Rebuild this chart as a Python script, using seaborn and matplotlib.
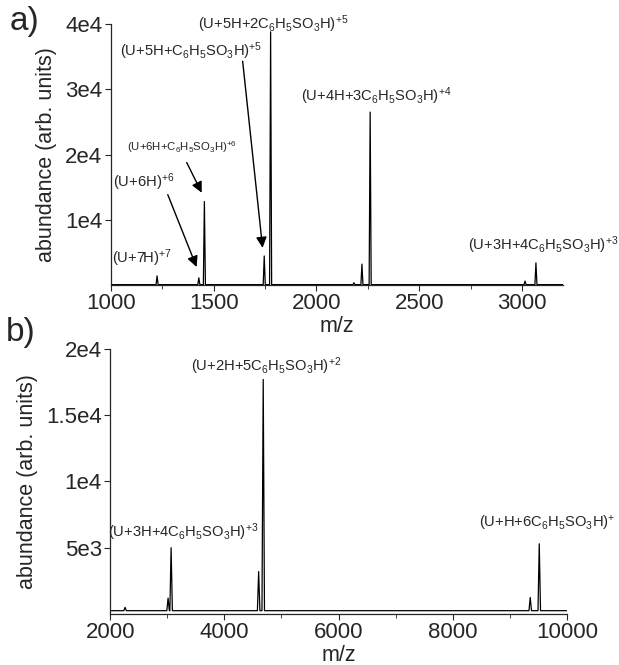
import numpy as np
import pandas as pd
import matplotlib
matplotlib.use('Agg')
import matplotlib.pyplot as plt
from matplotlib.ticker import MultipleLocator
import seaborn as sns

# panel a) peaks (m/z, abundance)
peaks_a_mz = [1225, 1428, 1455, 1746, 1777, 2182, 2221, 2261, 3014, 3067]
peaks_a_ab = [1400, 1100, 12800, 4450, 38800, 350, 3200, 26500, 600, 3400]
base_a = 60

# panel b) peaks
peaks_b_mz = [2261, 3014, 3067, 4600, 4680, 9356, 9514]
peaks_b_ab = [500, 1200, 5000, 3200, 17700, 1250, 5300]
base_b = 250

yticks_a = [1e4, 2e4, 3e4, 4e4]
yticklabels_a = ['1e4', '2e4', '3e4', '4e4']
yticks_b = [5e3, 1e4, 1.5e4, 2e4]
yticklabels_b = ['5e3', '1e4', '1.5e4', '2e4']


def stick_spectrum(mz_list, ab_list, base, lo, hi, hw):
    # each peak drawn as a narrow triangle sitting on a flat baseline
    rows = [(lo, base), (hi, base)]
    for m, a in zip(mz_list, ab_list):
        rows += [(m - hw, base), (m, a), (m + hw, base)]
    return pd.DataFrame(rows, columns=['mz', 'abundance'])


sns.set_style('ticks')
plt.rcParams['font.family'] = ['Liberation Sans', 'DejaVu Sans']
plt.rcParams['mathtext.default'] = 'regular'

fig = plt.figure(figsize=(6.19, 6.65), dpi=100)
ax1 = fig.add_axes([0.179, 0.5714, 0.731, 0.3925])
ax2 = fig.add_axes([0.178, 0.0767, 0.738, 0.3985])

spec_a = stick_spectrum(peaks_a_mz, peaks_a_ab, base_a, 1000, 3200, 5)
spec_b = stick_spectrum(peaks_b_mz, peaks_b_ab, base_b, 2000, 10000, 22)

sns.lineplot(data=spec_a, x='mz', y='abundance', ax=ax1, color='black',
             lw=0.9, estimator=None)
sns.lineplot(data=spec_b, x='mz', y='abundance', ax=ax2, color='black',
             lw=0.9, estimator=None)

tick_fs = 16
lab_fs = 15.5
ann_fs = 10.6
small_fs = 8.2

ax1.set_xlim(1000, 3200)
ax1.set_ylim(0, 4e4)
ax1.set_xticks([1000, 1500, 2000, 2500, 3000])
ax1.xaxis.set_minor_locator(MultipleLocator(250))
ax1.set_yticks(yticks_a)
ax1.set_yticklabels(yticklabels_a)

ax2.set_xlim(2000, 10000)
ax2.set_ylim(0, 2e4)
ax2.set_xticks([2000, 4000, 6000, 8000, 10000])
ax2.xaxis.set_minor_locator(MultipleLocator(1000))
ax2.set_yticks(yticks_b)
ax2.set_yticklabels(yticklabels_b)

for ax in (ax1, ax2):
    sns.despine(ax=ax)
    ax.set_xlabel('m/z', fontsize=lab_fs, labelpad=1)
    ax.set_ylabel('abundance (arb. units)', fontsize=lab_fs, labelpad=6)
    ax.tick_params(axis='both', which='major', labelsize=tick_fs, length=4,
                   width=0.8, pad=2, direction='out')
    ax.tick_params(axis='x', which='minor', length=3, width=0.6)
    for s in ('left', 'bottom'):
        ax.spines[s].set_linewidth(0.9)

# panel a) labels
ax1.text(1790, 40000, r'(U+5H+2C$_6$H$_5$SO$_3$H)$^{+5}$', ha='center',
         va='center', fontsize=ann_fs, clip_on=False)
ax1.text(2291, 28900, r'(U+4H+3C$_6$H$_5$SO$_3$H)$^{+4}$', ha='center',
         va='center', fontsize=ann_fs)
ax1.text(3102, 6150, r'(U+3H+4C$_6$H$_5$SO$_3$H)$^{+3}$', ha='center',
         va='center', fontsize=ann_fs, clip_on=False)
ax1.text(1005, 4150, r'(U+7H)$^{+7}$', ha='left', va='center', fontsize=ann_fs)
ax1.text(1044, 35850, r'(U+5H+C$_6$H$_5$SO$_3$H)$^{+5}$', ha='left',
         va='center', fontsize=ann_fs)
ax1.text(1078, 21100, r'(U+6H+C$_6$H$_5$SO$_3$H)$^{+6}$', ha='left',
         va='center', fontsize=small_fs)
ax1.text(1010, 15700, r'(U+6H)$^{+6}$', ha='left', va='center',
         fontsize=ann_fs)

arrow = dict(arrowstyle='-|>', color='black', lw=1.0, mutation_scale=16,
             shrinkA=0, shrinkB=0)
ax1.annotate('', xy=(1738, 5700), xytext=(1641, 34300), arrowprops=arrow)
ax1.annotate('', xy=(1442, 14150), xytext=(1369, 18770), arrowprops=arrow)
ax1.annotate('', xy=(1417, 2770), xytext=(1277, 13850), arrowprops=arrow)

# panel b) labels
ax2.text(4737, 18720, r'(U+2H+5C$_6$H$_5$SO$_3$H)$^{+2}$', ha='center',
         va='center', fontsize=ann_fs)
ax2.text(3280, 6165, r'(U+3H+4C$_6$H$_5$SO$_3$H)$^{+3}$', ha='center',
         va='center', fontsize=ann_fs)
ax2.text(9650, 6840, r'(U+H+6C$_6$H$_5$SO$_3$H)$^{+}$', ha='center',
         va='center', fontsize=ann_fs, clip_on=False)

fig.text(0.016, 0.967, 'a)', fontsize=24, ha='left', va='center')
fig.text(0.010, 0.500, 'b)', fontsize=24, ha='left', va='center')

fig.savefig('out.png', dpi=100)
